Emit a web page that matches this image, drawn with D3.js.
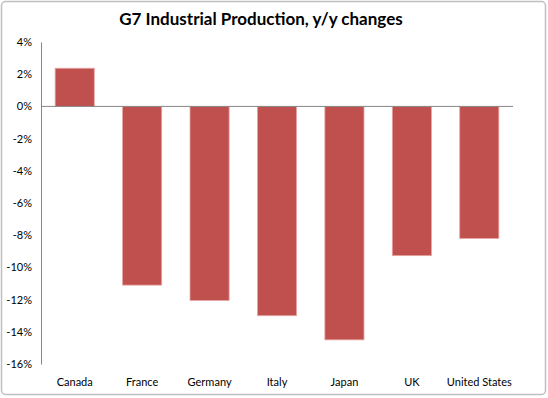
<!DOCTYPE html>
<html>
<head>
<meta charset="utf-8">
<script src="https://cdn.jsdelivr.net/npm/d3@7"></script>
<style>
  body { margin: 0; background: #fff; }
  text { font-family: Lato, "Open Sans", sans-serif; fill: #000; }
</style>
</head>
<body>
<div id="wrapper"></div>
<script>
const countries = ["Canada", "France", "Germany", "Italy", "Japan", "UK", "United States"];
const changes = [2.37, -11.1, -12.05, -13.0, -14.5, -9.27, -8.2];
const yTicks = [4, 2, 0, -2, -4, -6, -8, -10, -12, -14, -16];

function buildPlot() {
    const data = countries.map((c, i) => ({ country: c, value: changes[i] }));

    const dimension = {
        width: 548,
        height: 398,
        margin: { top: 42, left: 41, bottom: 34, right: 35 }
    };
    dimension.boundedWidth = dimension.width - dimension.margin.left - dimension.margin.right;
    dimension.boundedHeight = dimension.height - dimension.margin.top - dimension.margin.bottom;

    const svg = d3.select("#wrapper").append("svg")
        .attr("width", dimension.width)
        .attr("height", dimension.height);

    // chart border
    svg.append("rect")
        .attr("x", 1.5).attr("y", 1.5)
        .attr("width", dimension.width - 4).attr("height", dimension.height - 5)
        .attr("rx", 4)
        .attr("fill", "#fff")
        .attr("stroke", "#bfbfbf")
        .attr("stroke-width", 1.5);

    svg.append("text")
        .attr("x", 261)
        .attr("y", 25)
        .attr("text-anchor", "middle")
        .style("font-size", "17px")
        .style("font-weight", "bold")
        .text("G7 Industrial Production, y/y changes");

    const bounded = svg.append("g")
        .attr("transform", `translate(${dimension.margin.left},${dimension.margin.top})`);

    const xScaler = d3.scaleBand()
        .domain(countries)
        .range([0, dimension.boundedWidth])
        .paddingInner(0.42)
        .paddingOuter(0.21);

    const yScaler = d3.scaleLinear()
        .domain([-16, 4])
        .range([dimension.boundedHeight, 0]);

    bounded.selectAll("rect.bar")
        .data(data)
        .join("rect")
        .attr("class", "bar")
        .attr("x", d => xScaler(d.country))
        .attr("width", xScaler.bandwidth())
        .attr("y", d => yScaler(Math.max(0, d.value)))
        .attr("height", d => Math.abs(yScaler(d.value) - yScaler(0)))
        .attr("fill", "#c0504d")
        .attr("stroke", "#e6a5a3")
        .attr("stroke-width", 0.8);

    const y_axis = d3.axisLeft(yScaler)
        .tickValues(yTicks)
        .tickSize(0)
        .tickPadding(9)
        .tickFormat(d => d + "%");

    const yG = bounded.append("g").call(y_axis);
    yG.select(".domain").attr("stroke", "#868686");
    yG.selectAll("text").style("font-size", "11px").style("font-family", "Lato, sans-serif");

    // zero line with category labels below the plot
    bounded.append("line")
        .attr("x1", 0).attr("x2", dimension.boundedWidth)
        .attr("y1", yScaler(0)).attr("y2", yScaler(0))
        .attr("stroke", "#868686");

    const x_axis = d3.axisBottom(xScaler).tickSize(0).tickPadding(14);
    const xG = bounded.append("g")
        .attr("transform", `translate(0,${dimension.boundedHeight})`)
        .call(x_axis);
    xG.select(".domain").remove();
    xG.selectAll("text").style("font-size", "11px").style("font-family", "Lato, sans-serif");
}

buildPlot();
</script>
</body>
</html>
